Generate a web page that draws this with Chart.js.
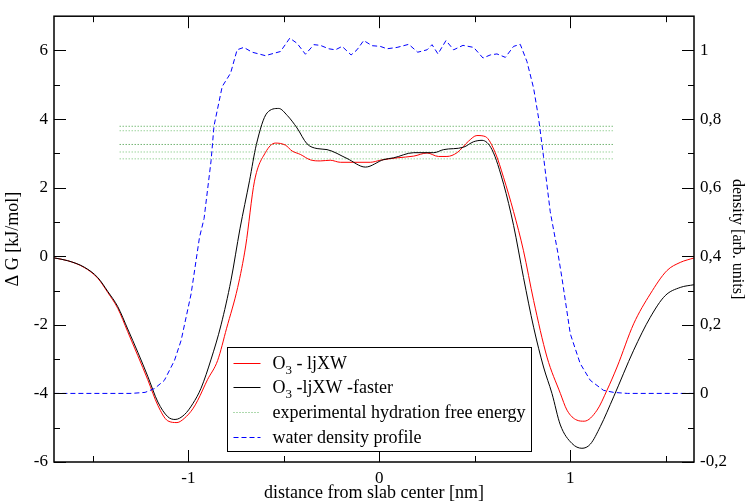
<!DOCTYPE html>
<html>
<head>
<meta charset="utf-8">
<script src="https://cdn.jsdelivr.net/npm/chart.js@4.4.0/dist/chart.umd.min.js"></script>
<style>
    html, body { margin: 0; padding: 0; background: #fff; }
    #grafico { display: block; }
</style>
</head>
<body>
<canvas id="grafico" width="749" height="502"></canvas>
<script>
"use strict";

// O3 - ljXW (vermelho)
const redX = [-1.702,-1.632,-1.545,-1.475,-1.422,-1.37,-1.318,-1.265,-1.213,-1.16,-1.108,-1.06,-1.02,-0.977,-0.951,-0.9,-0.847,-0.8,-0.742,-0.7,-0.654,-0.597,-0.545,-0.492,-0.457,-0.414,-0.361,-0.309,-0.257,-0.204,-0.135,-0.047,0.005,0.093,0.18,0.25,0.31,0.354,0.407,0.468,0.511,0.555,0.607,0.651,0.703,0.755,0.808,0.878,0.948,0.983,1.035,1.073,1.14,1.192,1.245,1.332,1.419,1.506,1.576,1.648];
const redY = [-0.05,-0.13,-0.33,-0.64,-1.06,-1.52,-2.2,-2.9,-3.6,-4.35,-4.8,-4.85,-4.72,-4.45,-4.2,-3.6,-3.04,-2.1,-0.91,0.3,2.19,3.02,3.3,3.24,3.07,2.97,2.81,2.78,2.8,2.74,2.74,2.74,2.8,2.87,2.92,3.01,2.91,2.91,3.02,3.36,3.52,3.49,3.02,2.29,1.3,0.16,-1.29,-2.94,-4.0,-4.49,-4.78,-4.81,-4.49,-3.91,-3.23,-1.97,-1.1,-0.42,-0.18,-0.05];

// O3 -ljXW -faster (preto)
const blackX = [-1.702,-1.632,-1.545,-1.475,-1.422,-1.37,-1.318,-1.265,-1.213,-1.16,-1.108,-1.07,-1.021,-0.977,-0.934,-0.881,-0.829,-0.777,-0.73,-0.68,-0.644,-0.588,-0.527,-0.483,-0.431,-0.379,-0.326,-0.274,-0.169,-0.073,0.023,0.075,0.18,0.285,0.337,0.441,0.494,0.538,0.59,0.651,0.703,0.755,0.808,0.86,0.904,0.948,1.009,1.061,1.105,1.157,1.227,1.332,1.419,1.497,1.576,1.648];
const blackY = [-0.05,-0.13,-0.32,-0.62,-1.03,-1.47,-2.12,-2.8,-3.5,-4.25,-4.68,-4.76,-4.62,-4.3,-3.85,-3.0,-2.0,-0.7,0.8,2.2,3.26,4.18,4.31,4.11,3.74,3.28,3.14,3.11,2.85,2.6,2.82,2.87,3.02,3.02,3.11,3.18,3.34,3.38,3.11,2.1,0.9,-0.62,-2.07,-3.23,-4.0,-4.92,-5.46,-5.6,-5.48,-4.97,-4.1,-2.74,-1.78,-1.15,-0.91,-0.83];

// perfil de densidade da agua (eixo direito)
const waterX = [-1.702,-1.3,-1.227,-1.178,-1.126,-1.073,-1.038,-0.986,-0.942,-0.918,-0.881,-0.866,-0.823,-0.779,-0.745,-0.71,-0.666,-0.597,-0.518,-0.469,-0.431,-0.387,-0.343,-0.309,-0.265,-0.23,-0.195,-0.148,-0.117,-0.082,-0.038,0.005,0.04,0.093,0.154,0.201,0.25,0.276,0.307,0.349,0.389,0.438,0.494,0.543,0.581,0.616,0.66,0.703,0.738,0.773,0.808,0.834,0.86,0.895,0.935,0.956,1.0,1.052,1.105,1.174,1.227,1.3,1.648];
const waterY = [0,0,0.003,0.014,0.038,0.096,0.155,0.29,0.455,0.51,0.68,0.78,0.895,0.934,1.002,1.009,0.995,0.985,0.997,1.036,1.021,0.989,1.017,1.015,1.005,1.002,1.012,0.987,1.002,1.029,1.014,1.012,1.005,1.009,1.018,0.995,1.002,1.017,0.99,1.029,1.002,1.015,1.009,0.978,0.987,0.99,0.98,1.012,1.018,0.968,0.89,0.803,0.69,0.53,0.41,0.338,0.174,0.087,0.038,0.009,0.003,0,0];

// energia livre de hidratacao experimental (linhas pontilhadas)
const expEnergy = [3.79, 3.66, 3.26, 3.04, 2.84];
const expRange = [-1.36, 1.225];
const expColors = ["#3f9f3f", "#6cbf6c", "#2f8f2f", "#6cbf6c", "#6cbf6c"];

const xMajor = [-1, 0, 1], xMinor = [-1.5, -0.5, 0.5, 1.5];
const yMajor = [-6, -4, -2, 0, 2, 4, 6], yMinor = [-5, -3, -1, 1, 3, 5];
const dMajor = [-0.2, 0, 0.2, 0.4, 0.6, 0.8, 1], dMinor = [-0.1, 0.1, 0.3, 0.5, 0.7, 0.9];

const legendLabels = [["O", "3", " - ljXW"], ["O", "3", " -ljXW -faster"], ["experimental hydration free energy"], ["water density profile"]];
const legendBox = [-0.797, -2.66, 0.793, -5.67];

const SERIF = "'Liberation Serif', 'DejaVu Serif', serif";
const zip = (xs, ys) => xs.map((x, i) => ({ x, y: ys[i] }));

const datasets = [];
expEnergy.forEach((v, i) => datasets.push({
    label: "exp" + i, data: expRange.map(x => ({ x, y: v })), yAxisID: "y",
    borderColor: expColors[i], borderWidth: 1, borderDash: [1, 2], pointRadius: 0
}));
datasets.push({ label: "O3 - ljXW", data: zip(redX, redY), yAxisID: "y", borderColor: "#ff0000", borderWidth: 1, pointRadius: 0, cubicInterpolationMode: "monotone" });
datasets.push({ label: "O3 -ljXW -faster", data: zip(blackX, blackY), yAxisID: "y", borderColor: "#000000", borderWidth: 1, pointRadius: 0, cubicInterpolationMode: "monotone" });
datasets.push({ label: "water density profile", data: zip(waterX, waterY), yAxisID: "y2", borderColor: "#0000ff", borderWidth: 1, borderDash: [5, 3], pointRadius: 0, tension: 0 });
datasets.forEach((d, i) => { d.order = datasets.length - i; });

const legendStyles = [
    { color: "#ff0000", dash: [] },
    { color: "#000000", dash: [] },
    { color: "#5cb35c", dash: [1, 2] },
    { color: "#0000ff", dash: [5, 3] }
];

// moldura + ticks para dentro (estilo grace)
const framePlugin = {
    id: "moldura",
    afterDraw(chart) {
        const ctx = chart.ctx, a = chart.chartArea;
        const sx = chart.scales.x, sy = chart.scales.y, sd = chart.scales.y2;
        ctx.save();
        ctx.strokeStyle = "#000"; ctx.lineWidth = 1.5;
        ctx.strokeRect(a.left, a.top, a.right - a.left, a.bottom - a.top);
        ctx.lineWidth = 1;
        const seg = (x1, y1, x2, y2) => { ctx.beginPath(); ctx.moveTo(x1, y1); ctx.lineTo(x2, y2); ctx.stroke(); };
        const vx = (vals, len) => vals.forEach(v => {
            const p = Math.round(sx.getPixelForValue(v)) + 0.5;
            seg(p, a.bottom, p, a.bottom - len); seg(p, a.top, p, a.top + len);
        });
        vx(xMajor, 12); vx(xMinor, 6);
        yMajor.forEach(v => { const p = Math.round(sy.getPixelForValue(v)) + 0.5; seg(a.left, p, a.left + 12, p); });
        yMinor.forEach(v => { const p = Math.round(sy.getPixelForValue(v)) + 0.5; seg(a.left, p, a.left + 6, p); });
        dMajor.forEach(v => { const p = Math.round(sd.getPixelForValue(v)) + 0.5; seg(a.right, p, a.right - 12, p); });
        dMinor.forEach(v => { const p = Math.round(sd.getPixelForValue(v)) + 0.5; seg(a.right, p, a.right - 6, p); });
        ctx.restore();
    }
};

const legendPlugin = {
    id: "legendaCaixa",
    afterDraw(chart) {
        const ctx = chart.ctx, sx = chart.scales.x, sy = chart.scales.y;
        const l = Math.round(sx.getPixelForValue(legendBox[0])) + 0.5, t = Math.round(sy.getPixelForValue(legendBox[1])) + 0.5;
        const r = Math.round(sx.getPixelForValue(legendBox[2])) + 0.5, b = Math.round(sy.getPixelForValue(legendBox[3])) + 0.5;
        ctx.save();
        ctx.fillStyle = "#fff"; ctx.fillRect(l, t, r - l, b - t);
        ctx.strokeStyle = "#000"; ctx.lineWidth = 1; ctx.strokeRect(l, t, r - l, b - t);
        legendLabels.forEach((parts, i) => {
            const cy = t + 15 + i * 24.7;
            const st = legendStyles[i];
            ctx.strokeStyle = st.color; ctx.setLineDash(st.dash);
            ctx.beginPath(); ctx.moveTo(l + 6, Math.round(cy) + 0.5); ctx.lineTo(l + 33, Math.round(cy) + 0.5); ctx.stroke();
            ctx.setLineDash([]);
            ctx.fillStyle = "#000"; ctx.textBaseline = "alphabetic"; ctx.textAlign = "left";
            let x = l + 45; const base = cy + 6;
            if (parts.length === 3) {
                ctx.font = "18px " + SERIF; ctx.fillText(parts[0], x, base); x += ctx.measureText(parts[0]).width;
                ctx.font = "13px " + SERIF; ctx.fillText(parts[1], x, base + 5); x += ctx.measureText(parts[1]).width;
                ctx.font = "18px " + SERIF; ctx.fillText(parts[2], x, base);
            } else {
                ctx.font = "18px " + SERIF; ctx.fillText(parts[0], x, base);
            }
        });
        ctx.restore();
    }
};

const fmtComma = v => (Math.abs(v) < 1e-9 ? "0" : String(+v.toFixed(1)).replace(".", ","));

new Chart(document.getElementById("grafico").getContext("2d"), {
    type: "line",
    data: { datasets },
    options: {
        responsive: false, animation: false, devicePixelRatio: 1,
        layout: { padding: { top: 14, left: 0, right: 0, bottom: 0 } },
        plugins: { legend: { display: false }, tooltip: { enabled: false } },
        scales: {
            x: {
                type: "linear", position: "bottom", min: -1.704, max: 1.648,
                grid: { display: false, drawTicks: false }, border: { display: false },
                afterBuildTicks: s => { s.ticks = xMajor.map(v => ({ value: v })); },
                afterFit: s => { s.height = 40; },
                ticks: { color: "#000", font: { family: SERIF, size: 17 }, padding: 6, maxRotation: 0, callback: v => String(v) },
                title: { display: true, text: "distance from slab center [nm]", color: "#000", font: { family: SERIF, size: 18 }, padding: { top: 0, bottom: -2 } }
            },
            y: {
                type: "linear", position: "left", min: -6, max: 7,
                grid: { display: false, drawTicks: false }, border: { display: false },
                afterBuildTicks: s => { s.ticks = yMajor.map(v => ({ value: v })); },
                afterFit: s => { s.width = 54; },
                ticks: { color: "#000", font: { family: SERIF, size: 17 }, padding: 6, callback: v => String(v) },
                title: { display: true, text: "Δ G [kJ/mol]", color: "#000", font: { family: SERIF, size: 18 }, padding: { top: 2, bottom: 0 } }
            },
            y2: {
                type: "linear", position: "right", min: -0.2, max: 1.1,
                grid: { display: false, drawTicks: false }, border: { display: false },
                afterBuildTicks: s => { s.ticks = dMajor.map(v => ({ value: v })); },
                afterFit: s => { s.width = 55; },
                ticks: { color: "#000", font: { family: SERIF, size: 17 }, padding: 6, callback: fmtComma },
                title: { display: true, text: "density [arb. units]", color: "#000", font: { family: SERIF, size: 16 }, padding: { top: 2, bottom: 0 } }
            }
        }
    },
    plugins: [framePlugin, legendPlugin]
});
</script>
</body>
</html>
